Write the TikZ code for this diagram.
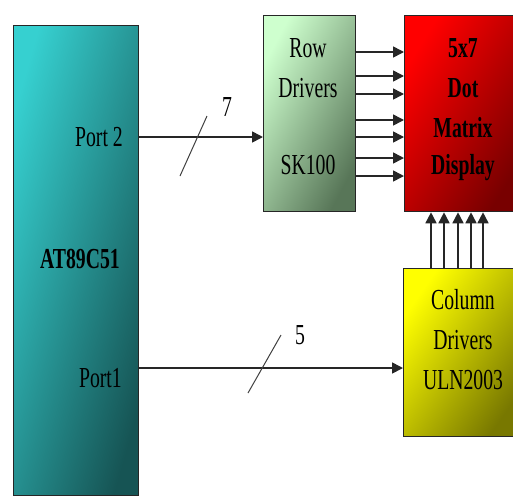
\documentclass[tikz,border=0pt]{standalone}
\usepackage{fontspec}
\setmainfont{Liberation Serif}
\newfontfamily\sqfont[FakeStretch=0.68]{Liberation Serif}
\usetikzlibrary{arrows.meta,calc}
\definecolor{tealA}{RGB}{54,208,208}
\definecolor{tealB}{RGB}{22,84,84}
\definecolor{greenA}{RGB}{206,255,206}
\definecolor{greenB}{RGB}{88,118,88}
\definecolor{redA}{RGB}{255,0,0}
\definecolor{redB}{RGB}{120,0,0}
\definecolor{yelA}{RGB}{255,255,0}
\definecolor{yelB}{RGB}{120,120,0}
\begin{document}
\begin{tikzpicture}[x=1pt,y=-1pt,
  box/.style={draw=black!85,line width=1.3pt,inner sep=0pt,anchor=north west},
  shd/.style n args={3}{top color=#1,bottom color=#2,shading angle=#3},
  lbl/.style={font=\sqfont\fontsize{29}{34}\selectfont,inner sep=0pt},
  blbl/.style={font=\sqfont\bfseries\fontsize{29}{34}\selectfont,inner sep=0pt},
  conn/.style={draw=black!85,line width=1.6pt,-{Triangle[length=11pt,width=11pt]}},
  tick/.style={draw=black!75,line width=1pt}]
\useasboundingbox (0,0) rectangle (513,496);
% boxes
\node[box,shd={tealA}{tealB}{74},minimum width=125pt,minimum height=470pt] (mcu) at (13,25) {};
\node[box,shd={greenA}{greenB}{62},minimum width=92pt,minimum height=196pt] (row) at (263,15) {};
\node[box,shd={redA}{redB}{58},minimum width=118pt,minimum height=196pt] (disp) at (404,15) {};
\node[box,shd={yelA}{yelB}{55},minimum width=118pt,minimum height=168pt] (col) at (403,268) {};
% texts
\node[lbl,anchor=east] (p2) at (123,137) {Port 2};
\node[lbl,anchor=east] (p1) at (122,378) {Port1};
\node[blbl] (mcuname) at (80,259) {AT89C51};
\node[lbl] (r1) at (308,48) {Row};
\node[lbl] (r2) at (308,88) {Drivers};
\node[lbl] (r3) at (308,165) {SK100};
\node[blbl] (d1) at (463,48) {5x7};
\node[blbl] (d2) at (463,88) {Dot};
\node[blbl] (d3) at (463,128) {Matrix};
\node[blbl] (d4) at (463,168) {Display};
\node[lbl] (c1) at (463,300) {Column};
\node[lbl] (c2) at (463,340) {Drivers};
\node[lbl] (c3) at (463,380) {ULN2003};
% bus connectors
\draw[conn] (mcu.east |- 0,137) -- (row.west |- 0,137);
\draw[conn] (mcu.east |- 0,368) -- (col.west |- 0,368);
\draw[tick] (180,176) -- (207,116);
\node[lbl] (n7) at (227,107) {7};
\draw[tick] (248,393) -- (281,335);
\node[lbl] (n5) at (300,335) {5};
% row lines
\foreach \yy in {52,76,94,120,137,158,176}
  \draw[conn] (row.east |- 0,\yy) -- (disp.west |- 0,\yy);
% column lines
\foreach \xx in {431,444,458,471,483}
  \draw[conn] (col.north -| \xx,0) -- (disp.south -| \xx,0);
\end{tikzpicture}
\end{document}
